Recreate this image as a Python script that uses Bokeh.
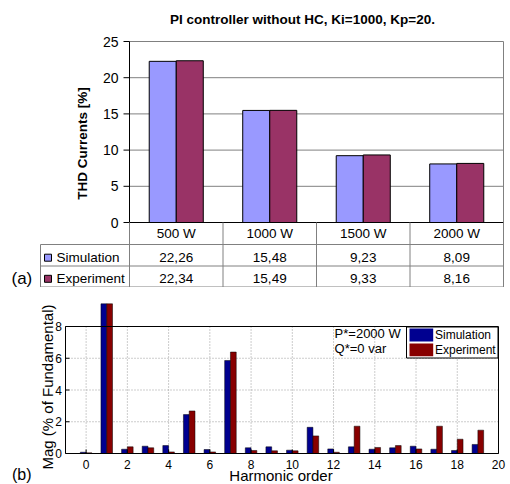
import numpy as np
from bokeh.plotting import figure
from bokeh.layouts import column
from bokeh.models import ColumnDataSource, Range1d
from bokeh.core.properties import value
from bokeh.embed import file_html
from bokeh.resources import INLINE

# ---------------- data, panel (a) ----------------
loads = ["500 W", "1000 W", "1500 W", "2000 W"]
thd_simulation = [22.26, 15.48, 9.23, 8.09]
thd_experiment = [22.34, 15.49, 9.33, 8.16]
series_names = ["Simulation", "Experiment"]
thd_ticks = [0, 5, 10, 15, 20, 25]
title_a = "PI controller without HC, Ki=1000, Kp=20."
ylabel_a = "THD Currents [%]"

# ---------------- data, panel (b) ----------------
harmonic_order = list(range(0, 20))
mag_simulation = [0.08, 9.43, 0.27, 0.46, 0.50, 2.45, 0.25, 5.86, 0.36, 0.42,
                  0.21, 1.65, 0.29, 0.42, 0.27, 0.36, 0.46, 0.27, 0.19, 0.57]
mag_experiment = [0.04, 9.43, 0.42, 0.36, 0.10, 2.68, 0.10, 6.39, 0.19, 0.17,
                  0.17, 1.11, 0.08, 1.72, 0.38, 0.50, 0.29, 1.72, 0.90, 1.47]
mag_xticks = [0, 2, 4, 6, 8, 10, 12, 14, 16, 18, 20]
mag_yticks = [0, 2, 4, 6, 8]
mag_xlim = [-1, 20]
operating_point = ["P*=2000 W", "Q*=0 var"]
xlabel_b = "Harmonic order"
ylabel_b = "Mag (% of Fundamental)"

FONT = "Liberation Sans"
C_SIM_A, C_EXP_A = "#9999FF", "#993366"
C_SIM_B, C_EXP_B = "#000090", "#880000"
GRAY = "#808080"
W = 510


def span_range(v0, p0, v1, p1, pa, pb):
    """Range whose start/end sit at pixels pa/pb, given value v0 at pixel p0 and v1 at p1."""
    s = (v1 - v0) / (p1 - p0)
    return Range1d(v0 + (pa - p0) * s, v0 + (pb - p0) * s)


def T(fig, x, y, text, size, align="center", baseline="middle", style="normal",
      angle=0, xr="default", yr="default"):
    fig.text(x=x, y=y, text=text, text_align=align, text_baseline=baseline,
             text_font=value(FONT), text_font_size=size, text_font_style=style,
             text_color="black", angle=angle, x_range_name=xr, y_range_name=yr)


# ================= panel (a): bar chart + data table =================
H1 = 287
n = len(loads)
idx = np.arange(n)
AX_L, AX_R, AX_T, AX_B = 129, 503, 41, 222          # plot-area pixels
p1 = figure(width=W, height=H1,
            x_range=span_range(0, AX_L, n, AX_R, 0, W),
            y_range=span_range(0, AX_B, thd_ticks[-1], AX_T, H1, 0),
            output_backend="svg", toolbar_location=None,
            min_border_left=0, min_border_right=0, min_border_top=0, min_border_bottom=0)
p1.extra_x_ranges = {"px": Range1d(0, W)}
p1.extra_y_ranges = {"px": Range1d(H1, 0)}
p1.axis.visible = False
p1.grid.visible = False
p1.outline_line_color = None

# gridlines and plot-area border (gray)
grid_y = thd_ticks[1:]
p1.segment(x0=[0] * len(grid_y), y0=grid_y, x1=[n] * len(grid_y), y1=grid_y,
           line_color=GRAY, line_width=1)
p1.segment(x0=[n], y0=[0], x1=[n], y1=[thd_ticks[-1]], line_color=GRAY, line_width=1)

# bars
bw = 0.289
src_a = ColumnDataSource(dict(x_sim=idx + 0.5 - bw / 2, x_exp=idx + 0.5 + bw / 2,
                              sim=thd_simulation, exp=thd_experiment))
p1.vbar(x="x_sim", top="sim", width=bw, source=src_a, fill_color=C_SIM_A,
        line_color="black", line_width=1)
p1.vbar(x="x_exp", top="exp", width=bw, source=src_a, fill_color=C_EXP_A,
        line_color="black", line_width=1)

# axes (black)
p1.segment(x0=[0], y0=[0], x1=[0], y1=[thd_ticks[-1]], line_color="black", line_width=1)
p1.segment(x0=[0], y0=[0], x1=[n], y1=[0], line_color="black", line_width=1)
p1.segment(x0=[AX_L - 6] * len(thd_ticks), y0=thd_ticks, x1=[AX_L] * len(thd_ticks),
           y1=thd_ticks, line_color="black", line_width=1, x_range_name="px")
T(p1, [AX_L - 11] * len(thd_ticks), thd_ticks, [str(t) for t in thd_ticks], "14px",
  align="right", xr="px")
T(p1, [82], [143], [ylabel_a], "13.5px", style="bold", angle=np.pi / 2, xr="px", yr="px")
T(p1, [302], [18.5], [title_a], "13.5px", style="bold", xr="px", yr="px")

# data table
ROW = [AX_B, 244, 265.5, 286.5]      # row boundaries (pixels)
LEG_L = 40
p1.segment(x0=[LEG_L] * 3, y0=ROW[1:], x1=[AX_R] * 3, y1=ROW[1:],
           line_color=GRAY, line_width=1, x_range_name="px", y_range_name="px")
p1.segment(x0=[LEG_L], y0=[ROW[1]], x1=[LEG_L], y1=[ROW[3]],
           line_color=GRAY, line_width=1, x_range_name="px", y_range_name="px")
p1.segment(x0=list(range(1, n + 1)), y0=[ROW[0]] * n, x1=list(range(1, n + 1)),
           y1=[ROW[3]] * n, line_color=GRAY, line_width=1, y_range_name="px")
p1.segment(x0=[0], y0=[ROW[0]], x1=[0], y1=[ROW[3]], line_color=GRAY, line_width=1,
           y_range_name="px")


def fmt(v):
    return f"{v:.2f}".replace(".", ",")


txt_y = [233, 257, 278.3]
T(p1, list(idx + 0.5), [txt_y[0]] * n, loads, "13.5px", yr="px")
T(p1, list(idx + 0.5), [txt_y[1]] * n, [fmt(v) for v in thd_simulation], "13.5px", yr="px")
T(p1, list(idx + 0.5), [txt_y[2]] * n, [fmt(v) for v in thd_experiment], "13.5px", yr="px")
p1.scatter(x=[47.5] * 2, y=[257.2, 278.3], marker="square", size=7,
           fill_color=[C_SIM_A, C_EXP_A], line_color="black", line_width=1,
           x_range_name="px", y_range_name="px")
T(p1, [56] * 2, txt_y[1:], series_names, "13.5px", align="left", xr="px", yr="px")
T(p1, [11], [277.7], ["(a)"], "17px", align="left", xr="px", yr="px")

# ================= panel (b): harmonic spectrum =================
H3 = 484 - H1
BL, BR, BT, BB = 65, 498, 326 - H1, 453 - H1        # axes box pixels (local)
p3 = figure(width=W, height=H3,
            x_range=span_range(mag_xlim[0], BL, mag_xlim[1], BR, 0, W),
            y_range=span_range(0, BB, mag_yticks[-1], BT, H3, 0),
            output_backend="svg", toolbar_location=None,
            min_border_left=0, min_border_right=0, min_border_top=0, min_border_bottom=0)
p3.extra_x_ranges = {"px": Range1d(0, W)}
p3.extra_y_ranges = {"px": Range1d(H3, 0)}
p3.axis.visible = False
p3.grid.visible = False
p3.outline_line_color = None

top_y = mag_yticks[-1]
gx = mag_xticks[:-1]
p3.segment(x0=gx, y0=[0] * len(gx), x1=gx, y1=[top_y] * len(gx),
           line_color="#9a9a9a", line_width=1, line_dash="1 2")
gy = mag_yticks[1:-1]
p3.segment(x0=[mag_xlim[0]] * len(gy), y0=gy, x1=[mag_xlim[1]] * len(gy), y1=gy,
           line_color="#9a9a9a", line_width=1, line_dash="1 2")

h = np.array(harmonic_order)
bwb = 0.28
src_b = ColumnDataSource(dict(xs=h - bwb / 2, xe=h + bwb / 2,
                              sim=mag_simulation, exp=mag_experiment))
p3.vbar(x="xs", top="sim", bottom=0, width=bwb, source=src_b,
        fill_color=C_SIM_B, line_color="black", line_width=0.5)
p3.vbar(x="xe", top="exp", bottom=0, width=bwb, source=src_b,
        fill_color=C_EXP_B, line_color="black", line_width=0.5)

# box
x0b, x1b = mag_xlim
p3.segment(x0=[x0b, x0b, x0b, x1b], y0=[0, top_y, 0, 0], x1=[x1b, x1b, x0b, x1b],
           y1=[0, top_y, top_y, top_y], line_color="black", line_width=1)
# inward ticks
p3.segment(x0=mag_xticks, y0=[BB] * len(mag_xticks), x1=mag_xticks,
           y1=[BB - 4] * len(mag_xticks), line_color="black", line_width=1, y_range_name="px")
p3.segment(x0=[BL] * len(mag_yticks), y0=mag_yticks, x1=[BL + 4] * len(mag_yticks),
           y1=mag_yticks, line_color="black", line_width=1, x_range_name="px")
# tick labels and axis labels
T(p3, mag_xticks, [BB + 10.5] * len(mag_xticks), [str(t) for t in mag_xticks], "12px",
  yr="px")
T(p3, [BL - 3.5] * len(mag_yticks), mag_yticks, [str(t) for t in mag_yticks], "12px",
  align="right", xr="px")
T(p3, [280.5], [475 - H1], [xlabel_b], "15px", xr="px", yr="px")
T(p3, [46.5], [386.5 - H1], [ylabel_b], "15px", angle=np.pi / 2, xr="px", yr="px")
T(p3, [11.5], [473.5 - H1], ["(b)"], "16px", align="left", xr="px", yr="px")

# operating point text
T(p3, [12.05] * 2, [7.58, 6.63], operating_point, "13px", align="left")

# legend (MATLAB style box)
LG_L, LG_R, LG_T, LG_B = 406, 497.5, 326.5 - H1, 357.5 - H1
p3.quad(left=[LG_L], right=[LG_R], top=[LG_T], bottom=[LG_B], fill_color="white",
        line_color="black", line_width=1, x_range_name="px", y_range_name="px")
p3.quad(left=[409, 409], right=[432.7, 432.7], top=[328 - H1, 343 - H1],
        bottom=[341 - H1, 355.7 - H1], fill_color=[C_SIM_B, C_EXP_B], line_color=None,
        x_range_name="px", y_range_name="px")
T(p3, [434.5] * 2, [334.5 - H1, 349.3 - H1], series_names, "12px", align="left",
  xr="px", yr="px")

layout = column(p1, p3, spacing=0)
open("out.html", "w").write(file_html(layout, INLINE))
